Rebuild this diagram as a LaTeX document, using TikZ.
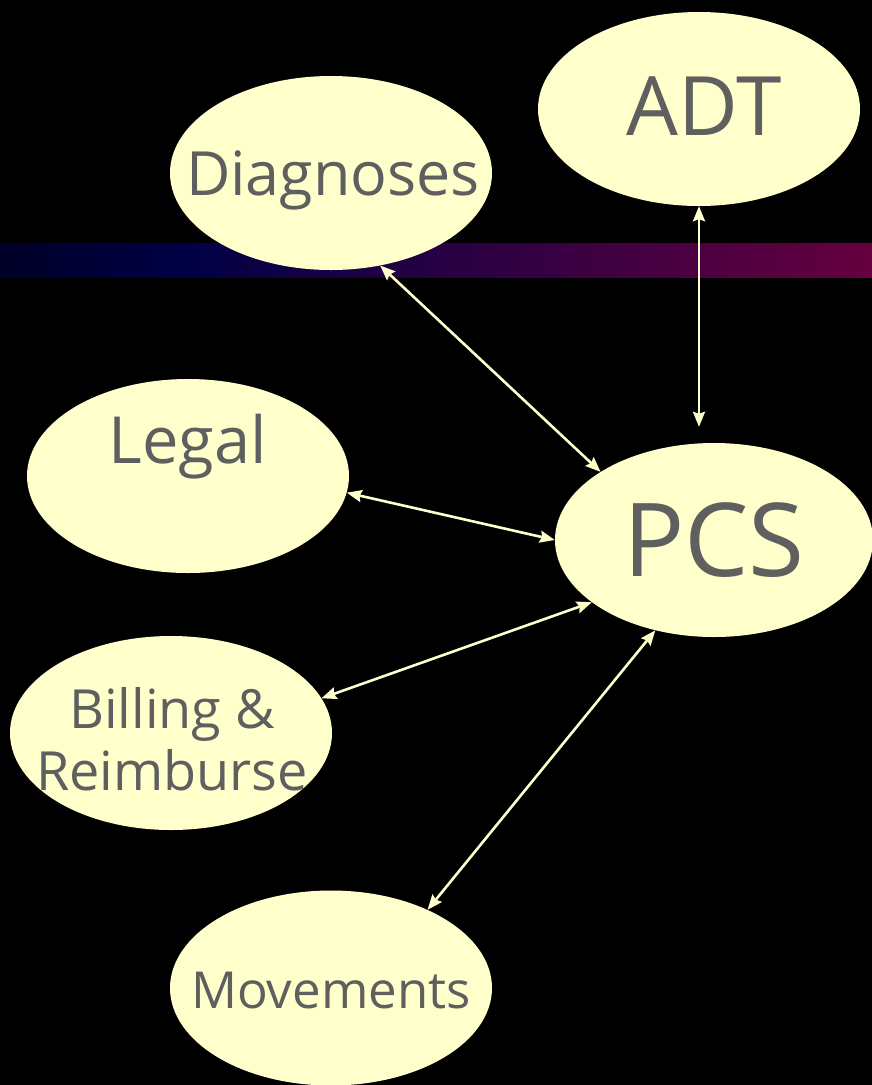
\documentclass[tikz,border=0pt]{standalone}
\usepackage{fontspec}
\setmainfont{Open Sans}
\usetikzlibrary{shapes.geometric,arrows.meta}
\definecolor{bub}{HTML}{FFFFCC}
\definecolor{txt}{HTML}{5F5F5F}
\definecolor{bandA}{HTML}{000028}
\definecolor{bandB}{HTML}{000045}
\definecolor{bandC}{HTML}{66003F}
\begin{document}
\begin{tikzpicture}[x=1pt,y=-1pt,
  bubble/.style={ellipse,fill=bub,inner sep=0pt,minimum width=322pt,minimum height=194pt},
  lbl/.style={anchor=base,text=txt,inner sep=0pt},
  link/.style={draw=bub,line width=2.6pt,{Stealth[length=15pt,width=12pt,inset=2pt]}-{Stealth[length=15pt,width=12pt,inset=2pt]}}]
\fill[black] (0,0) rectangle (872,1085);
\useasboundingbox (0,0) rectangle (872,1085);
% band
\shade[left color=bandA,right color=bandB] (0,243) rectangle (180,277);
\shade[left color=bandB,right color=bandC] (180,243) rectangle (872,277);
% bubbles
\node[bubble] (adt) at (699,109) {};
\node[bubble] (diag) at (331,173) {};
\node[bubble] (legal) at (188,476) {};
\node[bubble,minimum width=318pt] (pcs) at (714,540) {};
\node[bubble] (bill) at (171,733) {};
\node[bubble,minimum height=195pt] (move) at (331,988) {};
% labels
\node[lbl,font=\fontsize{82}{84}\selectfont] (tadt) at (704,135) {ADT};
\node[lbl,font=\fontsize{61}{64}\selectfont] (tdiag) at (333,195) {Diagnoses};
\node[lbl,font=\fontsize{65}{68}\selectfont] (tlegal) at (188,463) {Legal};
\node[lbl,font=\fontsize{102}{104}\selectfont] (tpcs) at (714,576) {PCS};
\node[lbl,font=\fontsize{54}{58}\selectfont] (tbill1) at (172,728) {Billing \&};
\node[lbl,font=\fontsize{54}{58}\selectfont] (tbill2) at (172,790) {Reimburse};
\node[lbl,font=\fontsize{51}{55}\selectfont] (tmove) at (331,1008) {Movements};
% links
\draw[link] (adt.south) -- ([yshift=16pt]pcs.north -| adt.south);
\draw[link] (diag.-62) -- (pcs.149);
\draw[link] (legal.-6) -- (pcs.180);
\draw[link] (bill.13) -- (pcs.-153);
\draw[link] (move.39) -- (pcs.-123);
\end{tikzpicture}
\end{document}
